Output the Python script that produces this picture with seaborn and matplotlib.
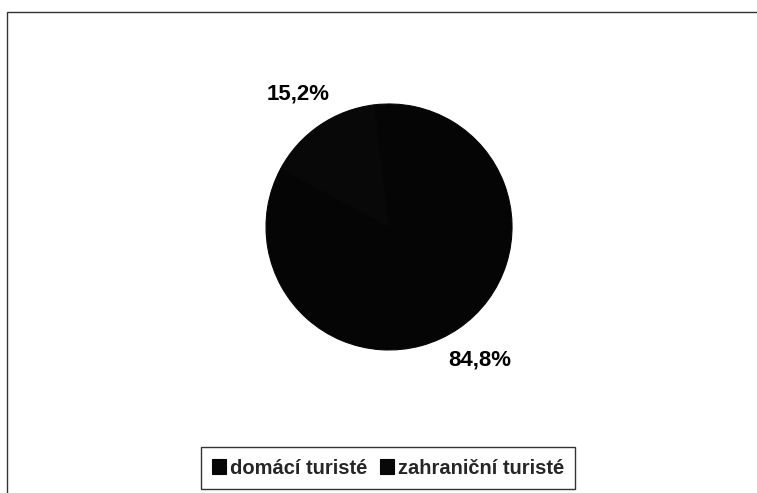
import matplotlib
matplotlib.use("Agg")
import matplotlib.pyplot as plt
from matplotlib.patches import Rectangle
import seaborn as sns

# data
categories = ["domácí turisté", "zahraniční turisté"]
shares = [84.8, 15.2]
colors = ["#050505", "#080808"]

sns.set_theme(style="white")
plt.rcParams['font.family'] = ['Liberation Sans', 'DejaVu Sans']

fig = plt.figure(figsize=(7.57, 4.93), dpi=100)
fig.patch.set_facecolor("white")

# outer frame (chart area border)
fig.patches.append(Rectangle((7 / 757, -0.05), 1.0, 1 - 12 / 493 + 0.05,
                             transform=fig.transFigure, fill=False,
                             edgecolor="#333333", linewidth=1.0))

# pie
ax = fig.add_axes([0.3514, 0.2901, 0.325, 0.499])
wedges, texts, autotexts = ax.pie(
    shares, colors=colors, startangle=97, counterclock=False,
    autopct=lambda p: f"{p:.1f}%".replace(".", ","), pctdistance=1.31,
    wedgeprops=dict(linewidth=0.8, edgecolor="#060606"),
    textprops=dict(fontsize=16, color="black", fontweight="bold"))
ax.set_xlim(-1, 1)
ax.set_ylim(-1, 1)
ax.set_aspect("equal")
ax.axis("off")

leg = fig.legend(wedges, categories, loc="center", bbox_to_anchor=(388 / 757, 1 - 468 / 493),
                 ncol=2, frameon=True, fancybox=False,
                 handlelength=0.7, handleheight=0.7, handletextpad=0.2,
                 columnspacing=0.6, borderpad=0.55, borderaxespad=0,
                 prop=dict(weight="bold", size=14.5))
leg.get_frame().set_edgecolor("black")
leg.get_frame().set_linewidth(1.0)

fig.savefig("out.png", dpi=100, facecolor="white")
